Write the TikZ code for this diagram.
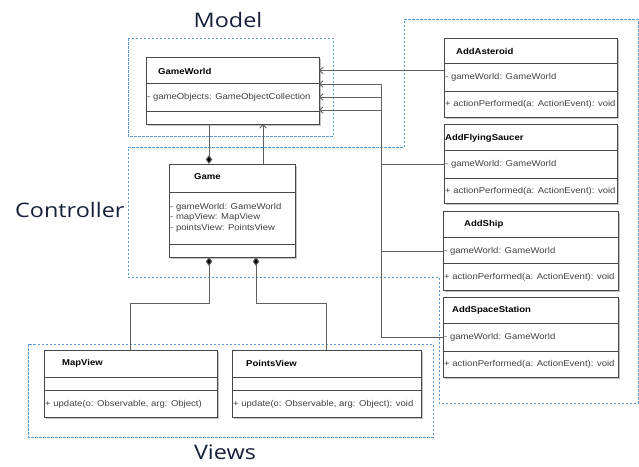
\documentclass[tikz,border=0pt]{standalone}
\usepackage{fontspec}
\newfontfamily\umlfont[FakeStretch=1.12]{Liberation Sans}
\newfontfamily\headfont[FakeStretch=1.17]{Open Sans}
\usetikzlibrary{arrows.meta,shadows,calc}
\definecolor{dashblue}{HTML}{5B9BD5}
\definecolor{boxgray}{HTML}{484848}
\definecolor{conngray}{HTML}{606060}
\definecolor{membergray}{HTML}{404040}
\definecolor{headcol}{HTML}{162038}
\begin{document}
\begin{tikzpicture}[x=1pt,y=-1pt,
  classbox/.style={draw=boxgray, line width=1pt, fill=white, anchor=north west, inner sep=0pt, outer sep=0pt,
    drop shadow={shadow xshift=1.6pt, shadow yshift=-1.6pt, fill=black!40, opacity=0.6}},
  divider/.style={draw=boxgray, line width=0.8pt},
  ctitle/.style={font=\umlfont\bfseries\fontsize{8.5}{10}\selectfont, anchor=west, inner sep=0pt},
  cmember/.style={font=\umlfont\fontsize{8.5}{10}\selectfont, text=membergray, anchor=west, inner sep=0pt},
  region/.style={draw=dashblue, dash pattern=on 2.5pt off 1.5pt, line width=0.9pt},
  heading/.style={font=\headfont\fontsize{20}{24}\selectfont, text=headcol, inner sep=0pt, anchor=base},
  conn/.style={draw=conngray, line width=1pt},
  nav/.style={conn, -{Straight Barb[length=3.5pt,width=6.5pt,line width=0.9pt]}},
  comp/.style={conn, {Diamond[length=9pt,width=6.5pt,fill=black]}-}
]
\useasboundingbox (0,0) rectangle (639,466);

% ---------- regions ----------
\draw[region] (128,38) rectangle (333,136);
\draw[region] (128,147) -- (404,147) -- (404,19) -- (638,19) -- (638,403) -- (439,403) -- (439,277) -- (128,277) -- cycle;
\draw[region] (28,344) rectangle (433,437);

% ---------- headings ----------
\node[heading] (hmodel) at (228,27) {Model};
\node[heading, anchor=base west] (hctrl) at (15,217) {Controller};
\node[heading] (hviews) at (225,459) {Views};

% ---------- class boxes ----------
\node[classbox, minimum width=173pt, minimum height=67pt] (gw) at (146,57) {};
\node[classbox, minimum width=126pt, minimum height=93pt] (gm) at (169,164) {};
\node[classbox, minimum width=173pt, minimum height=67pt] (mv) at (44,350) {};
\node[classbox, minimum width=189pt, minimum height=67pt] (pv) at (232,350) {};
\node[classbox, minimum width=173pt, minimum height=79pt] (aa) at (444,38) {};
\node[classbox, minimum width=173pt, minimum height=79pt] (af) at (444,124) {};
\node[classbox, minimum width=175pt, minimum height=79pt] (as) at (443,211) {};
\node[classbox, minimum width=175pt, minimum height=80pt] (ss) at (443,297) {};

% ---------- dividers ----------
\foreach \n/\a/\b in {gw/83/111, gm/192/244, mv/377/390, pv/377/390, aa/63/91, af/150/178, as/237/263, ss/323/351}{
  \coordinate (d1) at (0,\a);
  \coordinate (d2) at (0,\b);
  \draw[divider] (\n.west |- d1) -- (\n.east |- d1);
  \draw[divider] (\n.west |- d2) -- (\n.east |- d2);
}

% ---------- texts ----------
\node[ctitle] (gwt) at (158,71) {GameWorld};
\node[cmember] (gwa) at (147,97) {- gameObjects: GameObjectCollection};

\node[ctitle] (gmt) at (194,177) {Game};
\node[cmember] (gma1) at (170,207) {- gameWorld: GameWorld};
\node[cmember] (gma2) at (170,217.5) {- mapView: MapView};
\node[cmember] (gma3) at (170,228) {- pointsView: PointsView};

\node[ctitle] (mvt) at (62,363) {MapView};
\node[cmember] (mvm) at (45,404) {+ update(o: Observable, arg: Object)};

\node[ctitle] (pvt) at (246,363) {PointsView};
\node[cmember] (pvm) at (233,404) {+ update(o: Observable, arg: Object): void};

\node[ctitle] (aat) at (456,51) {AddAsteroid};
\node[cmember] (aaa) at (445,77) {- gameWorld: GameWorld};
\node[cmember] (aam) at (445,104) {+ actionPerformed(a: ActionEvent): void};

\node[ctitle] (aft) at (445,138) {AddFlyingSaucer};
\node[cmember] (afa) at (445,164) {- gameWorld: GameWorld};
\node[cmember] (afm) at (445,191) {+ actionPerformed(a: ActionEvent): void};

\node[ctitle] (ast) at (464,224) {AddShip};
\node[cmember] (asa) at (444,251) {- gameWorld: GameWorld};
\node[cmember] (asm) at (444,277) {+ actionPerformed(a: ActionEvent): void};

\node[ctitle] (sst) at (452,310) {AddSpaceStation};
\node[cmember] (ssa) at (444,337) {- gameWorld: GameWorld};
\node[cmember] (ssm) at (444,364) {+ actionPerformed(a: ActionEvent): void};

% ---------- guide coordinates ----------
\coordinate (xA) at (209,0);
\coordinate (xB) at (263,0);
\coordinate (xC) at (256,0);
\coordinate (xbus) at (381,0);
\coordinate (xmv) at (130,0);
\coordinate (xpv) at (326,0);
\coordinate (yv) at (0,303);
\coordinate (y1) at (0,70.5);
\coordinate (y2) at (0,84);
\coordinate (y3) at (0,97);
\coordinate (y4) at (0,110);

% ---------- connectors ----------
\draw[comp] (gm.north -| xA) -- (gw.south -| xA);
\draw[nav] (gm.north -| xB) -- (gw.south -| xB);

\draw[nav] (aa.west |- y1) -- (gw.east |- y1);
\draw[nav] (af.west |- afa) -- (xbus |- afa) -- (xbus |- y2) -- (gw.east |- y2);
\draw[nav] (as.west |- asa) -- (xbus |- asa) -- (xbus |- y3) -- (gw.east |- y3);
\draw[nav] (ss.west |- ssa) -- (xbus |- ssa) -- (xbus |- y4) -- (gw.east |- y4);

\draw[comp] (gm.south -| xA) -- (xA |- yv) -- (xmv |- yv) -- (mv.north -| xmv);
\draw[comp] (gm.south -| xC) -- (xC |- yv) -- (xpv |- yv) -- (pv.north -| xpv);
\end{tikzpicture}
\end{document}
